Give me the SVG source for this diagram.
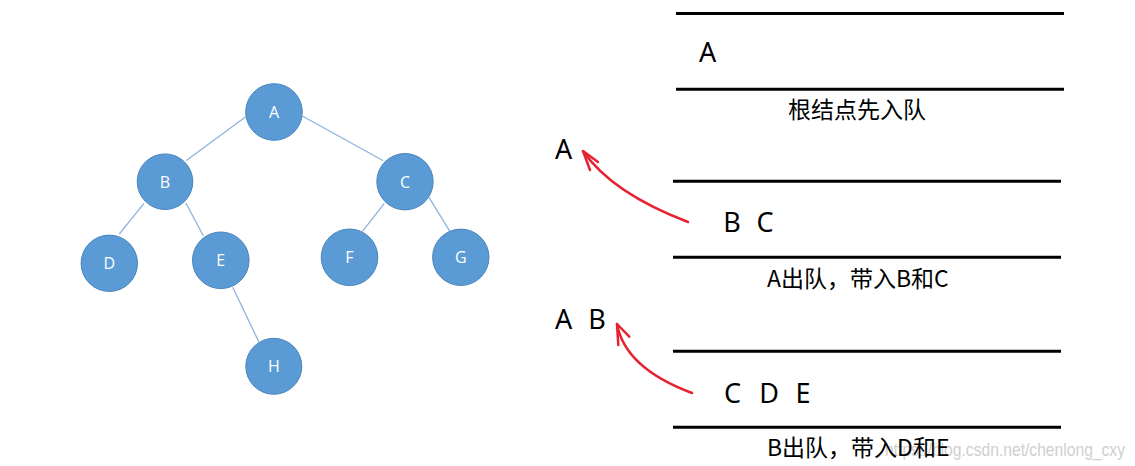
<svg xmlns="http://www.w3.org/2000/svg" width="1135" height="466" viewBox="0 0 1135 466">
<style>
.node circle{fill:#5b9bd5;stroke:#4a84ba;stroke-width:1}
.node text{fill:#ffffff;font-family:"Open Sans","Liberation Sans",sans-serif;font-size:16px;text-anchor:middle}
.edge{stroke:#8db4dd;stroke-width:1.3;fill:none}
.bar{stroke:#000;stroke-width:3}
.big{font-family:"Noto Sans","Liberation Sans",sans-serif;font-size:27px;fill:#000}
.cap{font-family:"Noto Sans CJK SC","Noto Sans",sans-serif;font-size:23px;fill:#000}
.red{stroke:#e52330;stroke-width:2.5;fill:none;stroke-linecap:round;stroke-linejoin:round}
.wm{font-family:"Liberation Sans",Arial,sans-serif;font-size:19px;fill:#cfcfcf}
</style>
<rect width="1135" height="466" fill="#ffffff"/>
<g id="connectors">
<line class="edge" x1="245.7" y1="116.7" x2="186" y2="160.7"/>
<line class="edge" x1="302.3" y1="116" x2="383.3" y2="160.7"/>
<line class="edge" x1="144" y1="203.3" x2="119.3" y2="234"/>
<line class="edge" x1="185.7" y1="202.7" x2="203.3" y2="235.7"/>
<line class="edge" x1="384.3" y1="203.3" x2="362.3" y2="231.7"/>
<line class="edge" x1="429" y1="197.3" x2="450" y2="231.7"/>
<line class="edge" x1="232.7" y1="287.3" x2="258.7" y2="341.7"/>
</g>
<g id="node-A" class="node"><circle cx="274" cy="112" r="28.3"/><text x="274" y="117.8">A</text></g>
<g id="node-B" class="node"><circle cx="165" cy="181.7" r="27.8"/><text x="165" y="187.5">B</text></g>
<g id="node-C" class="node"><circle cx="405" cy="181.7" r="28.2"/><text x="405" y="187.5">C</text></g>
<g id="node-D" class="node"><circle cx="109.3" cy="263.3" r="28.2"/><text x="109.3" y="269.1">D</text></g>
<g id="node-E" class="node"><circle cx="220.8" cy="260.3" r="28.3"/><text x="220.8" y="266.1">E</text></g>
<g id="node-F" class="node"><circle cx="349.5" cy="257.3" r="28.3"/><text x="349.5" y="263.1">F</text></g>
<g id="node-G" class="node"><circle cx="460.8" cy="257.3" r="28.2"/><text x="460.8" y="263.1">G</text></g>
<g id="node-H" class="node"><circle cx="273.8" cy="366.3" r="28"/><text x="273.8" y="372.1">H</text></g>

<g id="queue-1">
<line class="bar" x1="676" y1="13.5" x2="1064" y2="13.5"/>
<line class="bar" x1="676" y1="89.3" x2="1064" y2="89.3"/>
<text class="big" x="699" y="62">A</text>
<text class="cap" x="788" y="118">根结点先入队</text>
</g>
<g id="queue-2">
<line class="bar" x1="673" y1="181.3" x2="1061" y2="181.3"/>
<line class="bar" x1="673" y1="257.3" x2="1061" y2="257.3"/>
<text class="big" x="723.3" y="231.7">B</text>
<text class="big" x="756.5" y="231.7">C</text>
<text class="cap" x="767" y="286.5">A出队，带入B和C</text>
</g>
<g id="queue-3">
<line class="bar" x1="673" y1="351.3" x2="1061" y2="351.3"/>
<line class="bar" x1="673" y1="427.3" x2="1061" y2="427.3"/>
<text class="big" x="724" y="403">C</text>
<text class="big" x="759.3" y="403">D</text>
<text class="big" x="795.6" y="403">E</text>
<text class="wm" x="885" y="456" textLength="240" lengthAdjust="spacingAndGlyphs">https://blog.csdn.net/chenlong_cxy</text>
<text class="cap" x="767" y="456">B出队，带入D和E</text>
</g>
<g id="out-1">
<text class="big" x="555" y="159.3">A</text>
</g>
<g id="out-2">
<text class="big" x="555" y="329">A</text>
<text class="big" x="588.3" y="329">B</text>
</g>
<g id="arrows">
<path class="red" d="M688,222 Q612,193 583,151"/>
<polyline class="red" points="598,162 583,151 590,170"/>
<path class="red" d="M692,393 Q625,368 617,324"/>
<polyline class="red" points="629.3,336.7 617,324 618.3,345"/>
</g>
</svg>
